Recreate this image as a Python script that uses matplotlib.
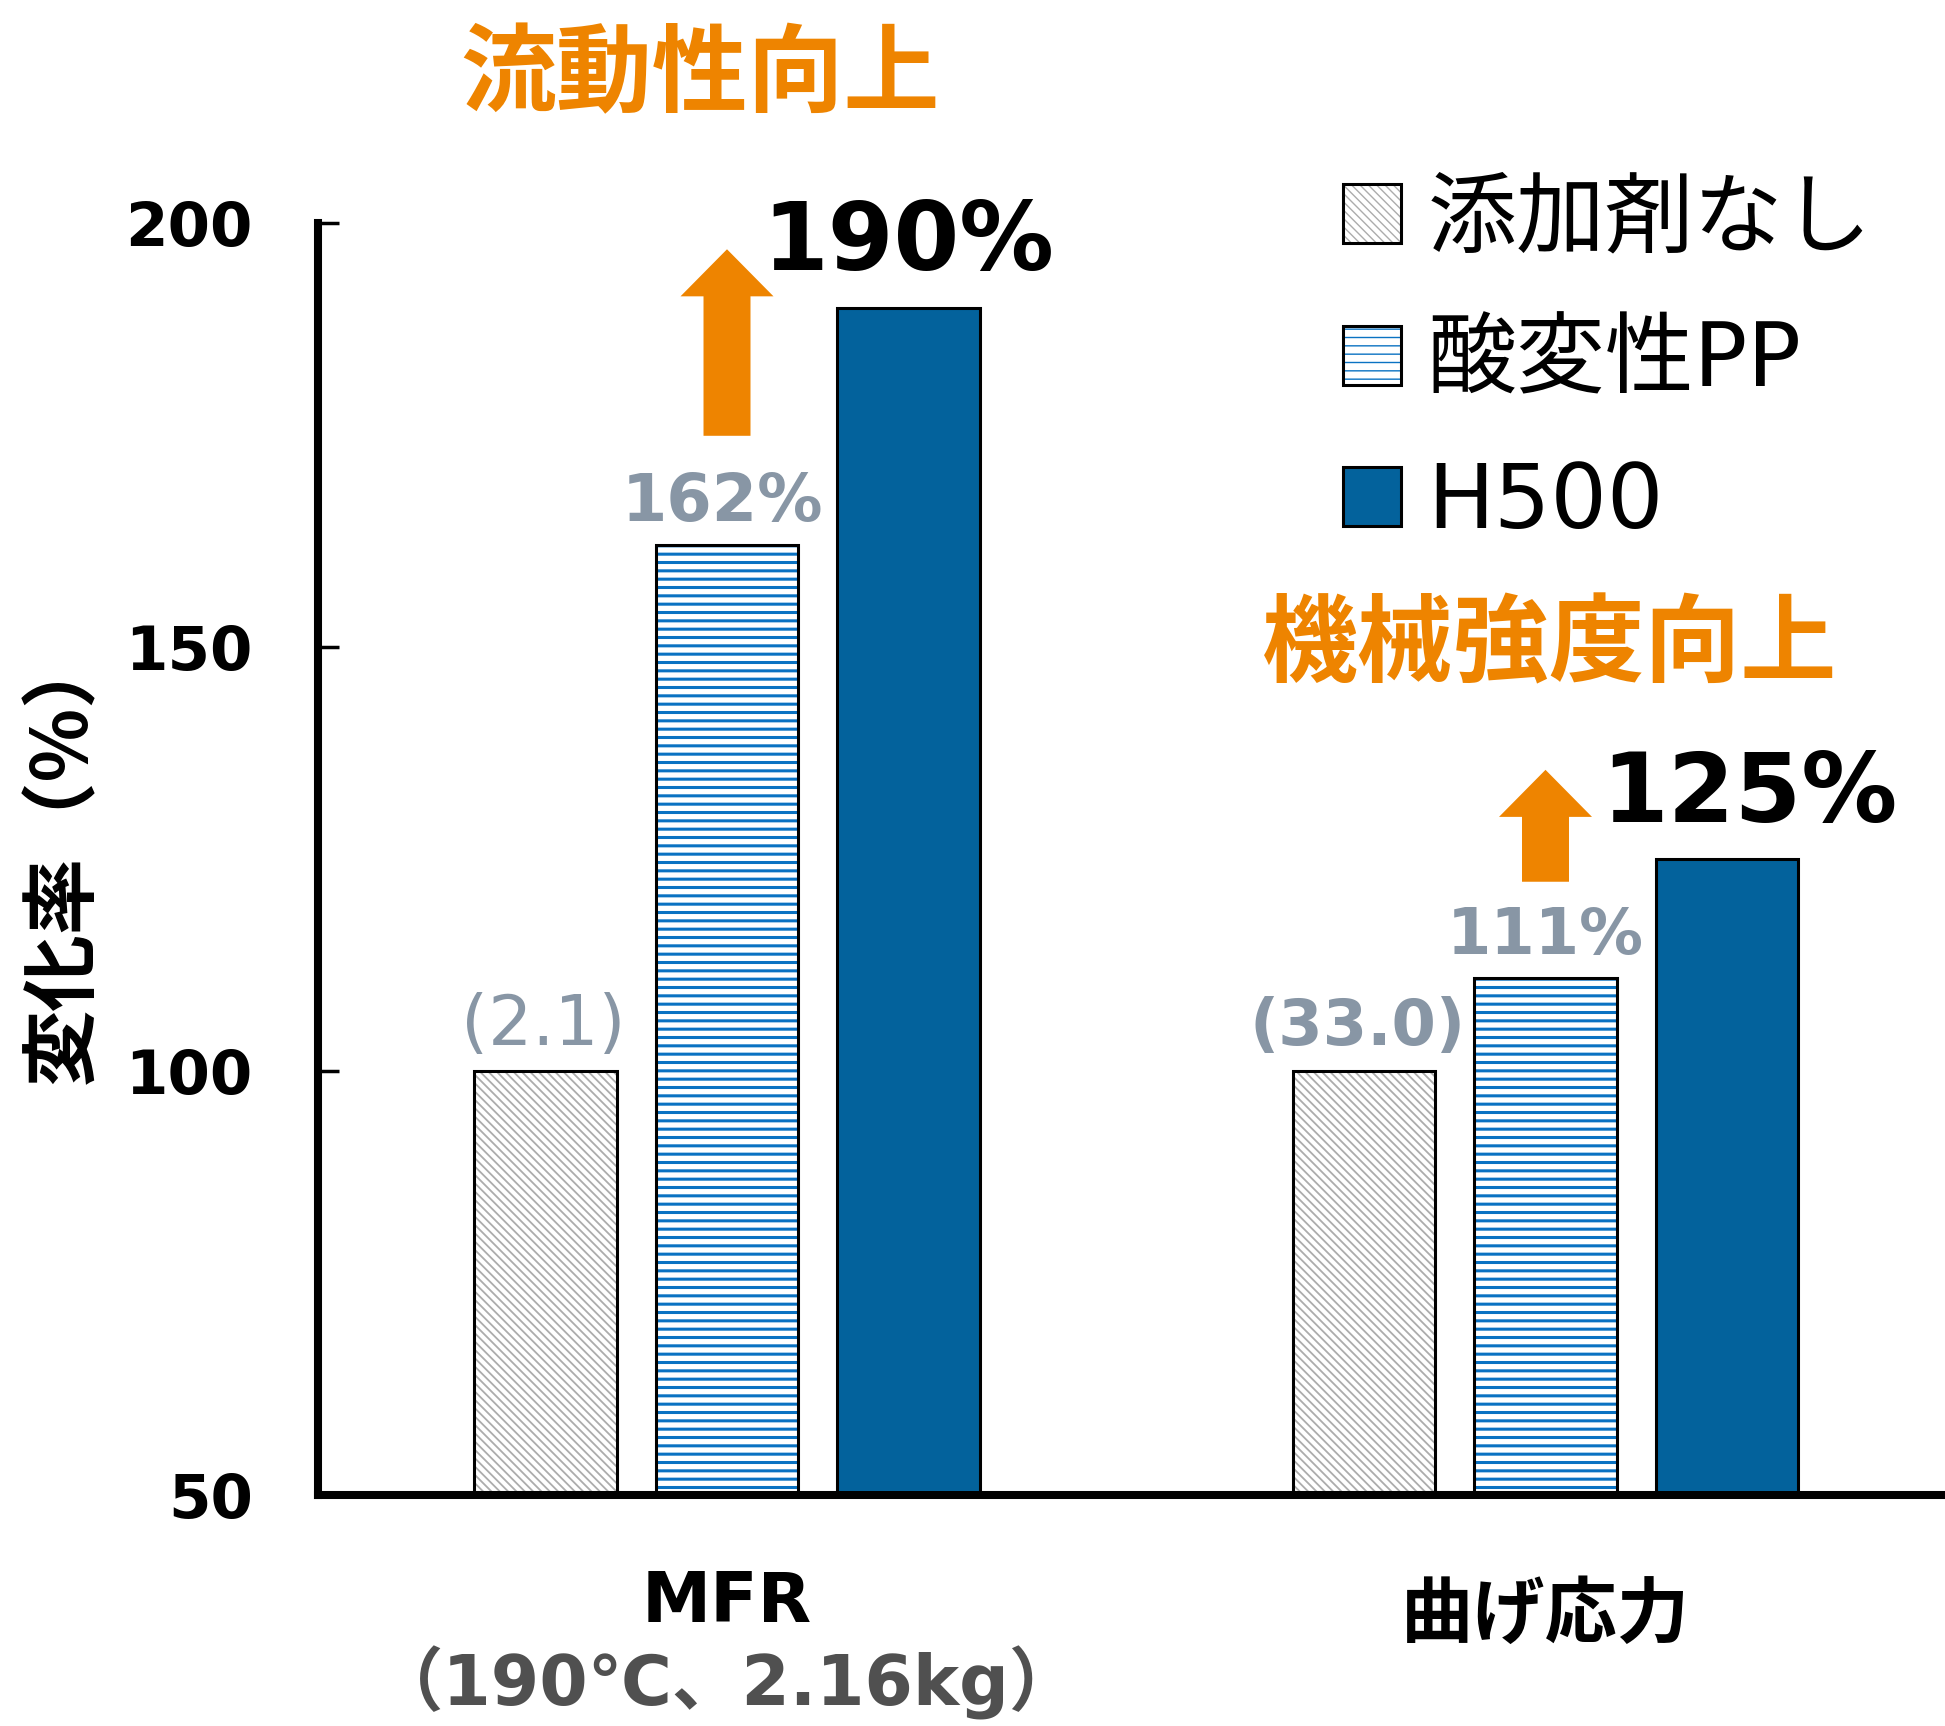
import numpy as np
import matplotlib
matplotlib.use("Agg")
import matplotlib.pyplot as plt
from matplotlib.legend_handler import HandlerTuple

plt.rcParams['font.family'] = ['Noto Sans CJK JP', 'DejaVu Sans']

# data
categories = ["MFR", "曲げ応力"]
conditions = ["（190℃、2.16kg）", ""]
series_names = ["添加剤なし", "酸変性PP", "H500"]
no_additive = [100, 100]
acid_pp = [162, 111]
h500 = [190, 125]
base_labels = ["(2.1)", "(33.0)"]
acid_labels = ["162%", "111%"]
h500_labels = ["190%", "125%"]
arrow_spans = [(174.9, 196.9), (122.3, 135.5)]
headlines = ["流動性向上", "機械強度向上"]
headline_x = [-0.033, 1.005]
headline_y = [217.3, 150.0]
yticks = [50, 100, 150, 200]

orange = '#ee8400'
label_gray = '#8896a5'
dark_blue = '#03629c'
stripe_blue = '#0a72c2'
latin_first = ['DejaVu Sans', 'Noto Sans CJK JP']

fig = plt.figure(figsize=(19.45, 17.26), dpi=100)
ax = fig.add_axes([318 / 1945, 231.3 / 1726, 1 - 318 / 1945, 1271.7 / 1726])

x = np.arange(len(categories))
off = 0.222
w = 0.174

# hatched bars: hatch layer first, then black outline on top
b0 = ax.bar(x - off, no_additive, w, color='white', edgecolor='#acacac', hatch='\\\\\\\\', lw=0)
o0 = ax.bar(x - off, no_additive, w, fill=False, edgecolor='black', lw=2.2)
b1 = ax.bar(x, acid_pp, w, color='white', edgecolor=stripe_blue, hatch='--', lw=0)
o1 = ax.bar(x, acid_pp, w, fill=False, edgecolor='black', lw=2.2)
b2 = ax.bar(x + off, h500, w, color=dark_blue, edgecolor='black', lw=2.2)

for p in b0:
    if hasattr(p, 'set_hatch_linewidth'):
        p.set_hatch_linewidth(1.3)
for p in b1:
    if hasattr(p, 'set_hatch_linewidth'):
        p.set_hatch_linewidth(2.2)

ax.set_xlim((318 - 727) / 818.5, (1945 - 727) / 818.5)
ax.set_ylim(50, 200)

# value labels
base_weights = ['normal', 'bold']
base_sizes = [50, 46]
base_dx = [-0.003, -0.0076]
for i in range(len(categories)):
    ax.text(x[i] - off + base_dx[i], no_additive[i] + 3.0, base_labels[i], ha='center', va='baseline',
            fontsize=base_sizes[i], color=label_gray, family='DejaVu Sans', fontweight=base_weights[i])
    ax.text(x[i] - 0.006 * (1 - i), acid_pp[i] + 2.8, acid_labels[i], ha='center', va='baseline',
            fontsize=46 + (1 - i), color=label_gray, family='DejaVu Sans', fontweight='bold')
    ax.text(x[i] + off + 0.027 * i, h500[i] + 4.4, h500_labels[i], ha='center', va='baseline',
            fontsize=68 + i, color='black', family='DejaVu Sans', fontweight='bold', clip_on=False)
    lo, hi = arrow_spans[i]
    ax.arrow(x[i], lo, 0, hi - lo, width=0.0574, head_width=0.1136, head_length=5.55,
             length_includes_head=True, color=orange, lw=0, clip_on=False)
    ax.text(headline_x[i], headline_y[i], headlines[i], ha='center', va='center',
            fontsize=69, color=orange, fontweight='bold', clip_on=False)

# category labels under the axis
cat_y = [-0.0848, -0.0954]
cat_family = [latin_first, 'Noto Sans CJK JP']
cat_size = [50, 52]
for i in range(len(categories)):
    ax.text(x[i], cat_y[i], categories[i], transform=ax.get_xaxis_transform(),
            ha='center', va='center', fontsize=cat_size[i], fontweight='bold', color='black',
            family=cat_family[i])
    if conditions[i]:
        ax.text(x[i], -0.148, conditions[i], transform=ax.get_xaxis_transform(),
                ha='center', va='center', fontsize=50, fontweight='bold', color='#505050',
                family=latin_first)

ax.set_xticks([])
ax.set_yticks(yticks)
ax.set_yticklabels([str(t) for t in yticks], family='DejaVu Sans', fontweight='bold', fontsize=44)
ax.tick_params(axis='y', direction='in', length=15, width=2.5, pad=47)
ax.set_ylabel("変化率（%）", fontsize=55, fontweight='bold')
ax.yaxis.set_label_coords(-0.1328, 0.502)

for s in ['top', 'right']:
    ax.spines[s].set_visible(False)
for s in ['left', 'bottom']:
    ax.spines[s].set_linewidth(5.8)

handles = [(b0[0], o0[0]), (b1[0], o1[0]), b2[0]]
leg = ax.legend(handles, series_names, loc='center left', bbox_to_anchor=(1343 / 1945, 1 - 362 / 1726),
                bbox_transform=fig.transFigure, frameon=False, borderpad=0, borderaxespad=0,
                handlelength=0.65, handleheight=0.65, handletextpad=0.3, labelspacing=0.613,
                prop={'family': latin_first, 'size': 64},
                handler_map={tuple: HandlerTuple(ndivide=1, pad=0)})

fig.savefig("out.png", dpi=100)
